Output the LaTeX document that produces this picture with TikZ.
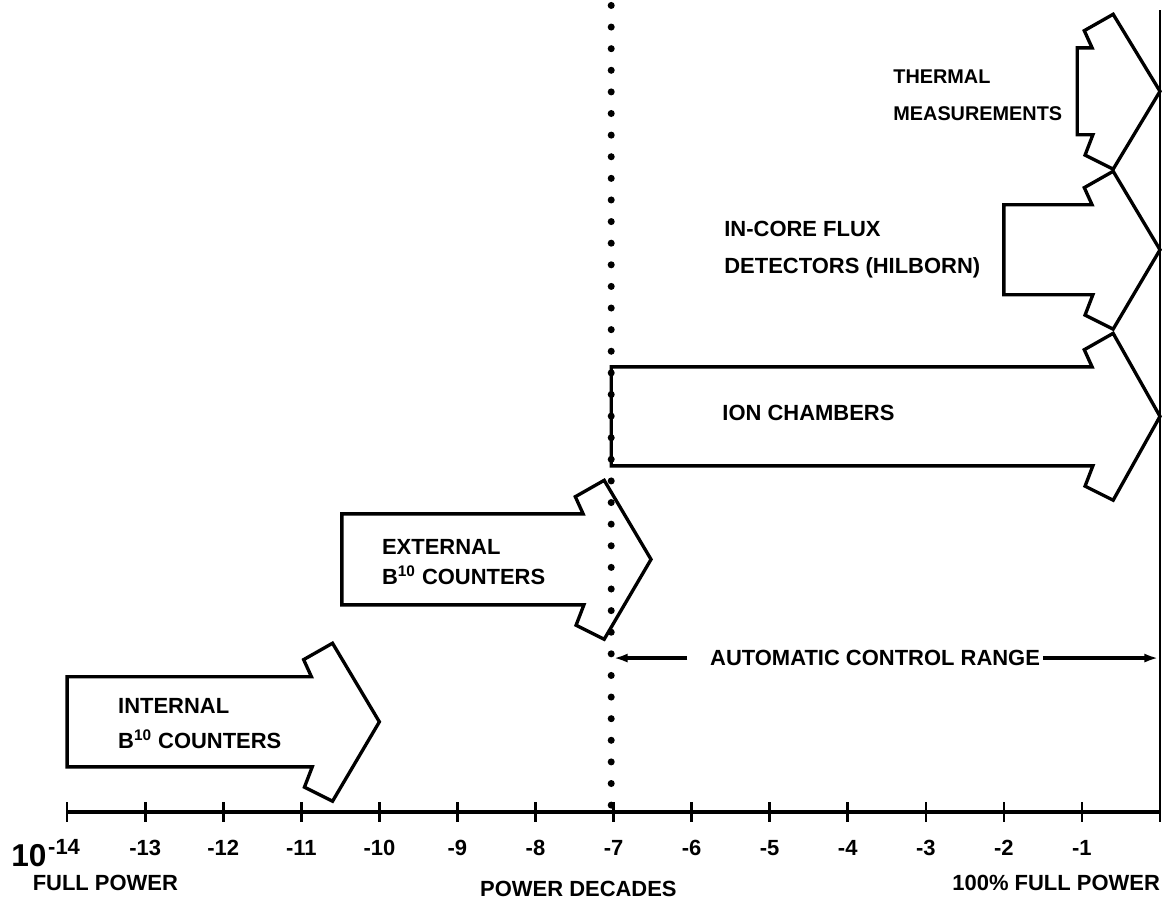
\documentclass[tikz,border=0pt]{standalone}
\usepackage{fontspec}
\setmainfont{Liberation Sans}
\usetikzlibrary{arrows.meta,positioning}

% arrow with broken head: left end, tip, centre, half height
\newcommand{\decarrow}[4]{%
  \draw[outline] (#1,#3+#4) -- (#2-0.87,#3+#4) -- ++(-0.10,0.22)
    -- (#2-0.60,#3+#4+0.43) -- (#2,#3) -- (#2-0.60,#3-#4-0.44)
    -- (#2-0.96,#3-#4-0.26) -- (#2-0.86,#3-#4) -- (#1,#3-#4) -- cycle;}

\begin{document}
\begin{tikzpicture}[x=1.5614cm,y=1.5614cm,
    outline/.style={line width=1.9pt,line join=miter},
    lbl/.style={font=\fontsize{12.5}{20}\selectfont\bfseries,anchor=west,align=left,inner sep=0pt},
    ticklbl/.style={font=\fontsize{12.5}{15}\selectfont\bfseries,inner sep=0pt},
    rangearrow/.style={line width=1.8pt,-{Latex[length=0.28cm,width=0.18cm]}}]
    \useasboundingbox (-14.86,-1.166) rectangle (0.128,10.40);
    % power axis
    \draw[line width=2.4pt] (-14,0) -- (0,0);
    \foreach \d in {-14,...,0}
        \draw[line width=1.5pt] (\d,-0.13) -- (\d,0.13);
    \foreach \d in {-13,...,-1}
        \node[ticklbl] (t\d) at (\d,-0.46) {\d};
    \node[ticklbl,anchor=base west,font=\fontsize{18}{18}\selectfont\bfseries] (t-14) at (-14.72,-0.705)
        {10\hspace{1pt}\raisebox{0.25cm}{\fontsize{12.5}{15}\selectfont -14}};
    \draw[line width=1.6pt] (0,-0.13) -- (0,10.27);
    \draw[line width=4pt,line cap=round,dash pattern=on 0pt off 12.3pt] (-7.03,10.33) -- (-7.03,0);
    % detectors
    \decarrow{-14}{-10}{1.153}{0.577}
    \decarrow{-10.48}{-6.52}{3.234}{0.583}
    \decarrow{-7.03}{0}{5.066}{0.634}
    \decarrow{-2}{0}{7.2}{0.576}
    \decarrow{-1.06}{0}{9.23}{0.557}
    \node[lbl] (internal) at (-13.35,1.134) {INTERNAL\\B\textsuperscript{10} COUNTERS};
    \node[lbl] (external) at (-9.97,3.20) {EXTERNAL\\[-3pt]B\textsuperscript{10} COUNTERS};
    \node[lbl] (ion) at (-5.61,5.11) {ION CHAMBERS};
    \node[lbl] (incore) at (-5.585,7.20) {IN-CORE FLUX\\[1pt]DETECTORS (HILBORN)};
    \node[lbl,font=\fontsize{11.3}{21}\selectfont\bfseries] (thermal) at (-3.42,9.18) {THERMAL\\MEASUREMENTS};
    % control range
    \node[ticklbl] (acr) at (-3.65,1.97) {AUTOMATIC CONTROL RANGE};
    \coordinate (acrL) at (-7.0,1.97);
    \coordinate (acrR) at (-0.02,1.97);
    \draw[rangearrow] ([xshift=-0.45cm]acr.west) -- (acrL);
    \draw[rangearrow] ([xshift=0.05cm]acr.east) -- (acrR);
    % bottom captions
    \node[ticklbl] (fullpower) at (-13.51,-0.91) {FULL POWER};
    \node[ticklbl] (decades) at (-7.45,-0.99) {POWER DECADES};
    \node[ticklbl] (topower) at (-1.33,-0.91) {100\% FULL POWER};
\end{tikzpicture}
\end{document}
